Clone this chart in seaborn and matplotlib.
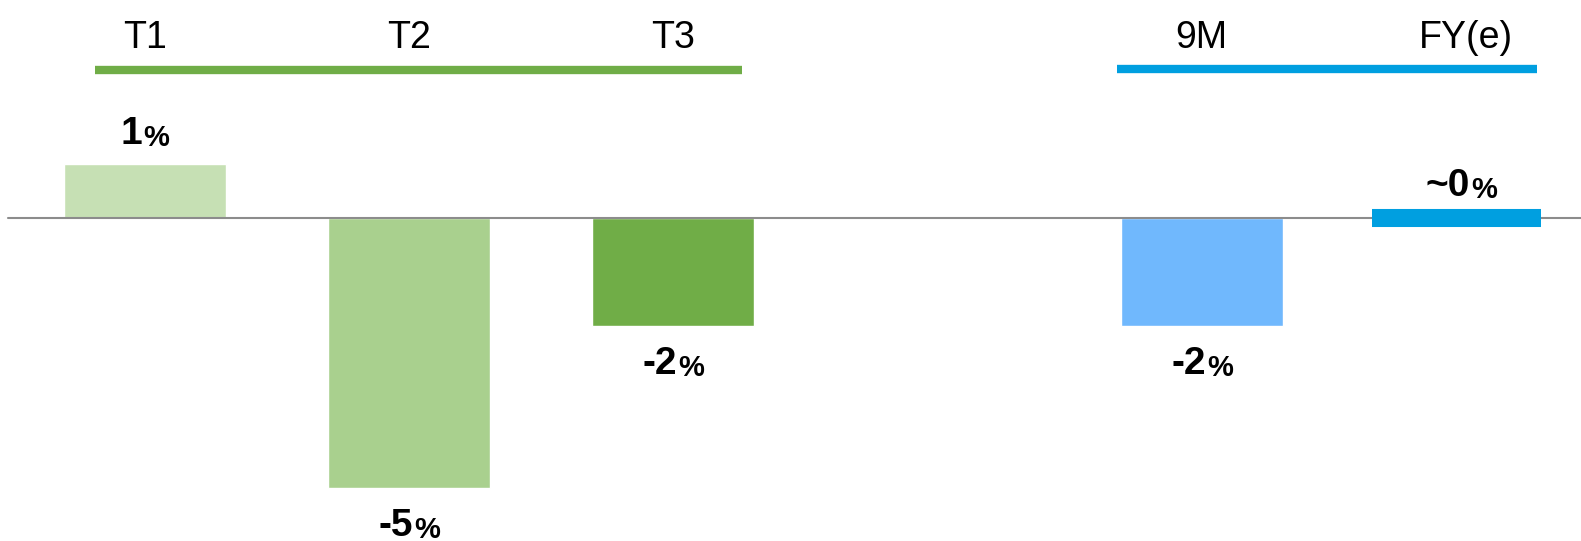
import pandas as pd
import seaborn as sns
import matplotlib.pyplot as plt

# Dane
categories = ["T1", "T2", "T3", "9M", "FY(e)"]
values = [1, -5, -2, -2, 0]
value_labels = ["1", "-5", "-2", "-2", "~0"]
colors = ["#c6e0b4", "#a9d08e", "#70ad47", "#70b8fd", "#009fe0"]
order = ["T1", "T2", "T3", " ", "9M", "FY(e)"]

df = pd.DataFrame({"period": categories, "value": values})

sns.set_theme(style="white")
plt.rcParams['font.family'] = ['Liberation Sans', 'DejaVu Sans']

fig = plt.figure(figsize=(15.81, 5.41), dpi=100)
ax = fig.add_axes([0, 0, 1, 1])

sns.barplot(data=df, x="period", y="value", hue="period", order=order,
            palette=dict(zip(categories, colors)), width=0.613, saturation=1,
            legend=False, ax=ax)

ax.set_xlim(-0.548, 5.436)
ax.set_ylim(-5.98, 4.04)
ax.axis("off")

# linia zera
ax.axhline(0, xmin=0.005, xmax=1, color="#8c8c8c", lw=1.5, zorder=1)

pos = {c: order.index(c) for c in categories}

# pasek "~0" jako gruba kreska
for c, v, col in zip(categories, values, colors):
    if v == 0:
        ax.hlines(v, pos[c] - 0.036 - 0.319, pos[c] - 0.036 + 0.319,
                  color=col, lw=13, capstyle="butt", zorder=3)

# etykiety wartosci
for c, v, lab in zip(categories, values, value_labels):
    if v > 0:
        t = ax.annotate(lab, (pos[c], v), xytext=(-13, 12), textcoords="offset pixels",
                        ha="center", va="bottom", fontsize=28, fontweight="bold", color="black")
    elif v == 0:
        t = ax.annotate(lab, (pos[c], v), xytext=(-18, 14), textcoords="offset pixels",
                        ha="center", va="bottom", fontsize=28, fontweight="bold", color="black")
    else:
        t = ax.annotate(lab, (pos[c], v), xytext=(-13, -20), textcoords="offset pixels",
                        ha="center", va="top", fontsize=28, fontweight="bold", color="black")
    ax.annotate("%", xy=(1, 0), xycoords=t, xytext=(1, 0), textcoords="offset pixels",
                ha="left", va="bottom", fontsize=21, fontweight="bold", color="black")

# naglowki okresow
trans = ax.get_xaxis_transform()
for c in categories:
    ax.text(pos[c], 0.93, c, transform=trans, ha="center", va="center", fontsize=27,
            color="black")

# linie grup
ax.plot([-0.19, 2.26], [0.871, 0.871], transform=trans, color="#70ad47", lw=6,
        solid_capstyle="butt")
ax.plot([3.68, 5.27], [0.873, 0.873], transform=trans, color="#009fe0", lw=6,
        solid_capstyle="butt")

plt.savefig("out.png", dpi=100)
